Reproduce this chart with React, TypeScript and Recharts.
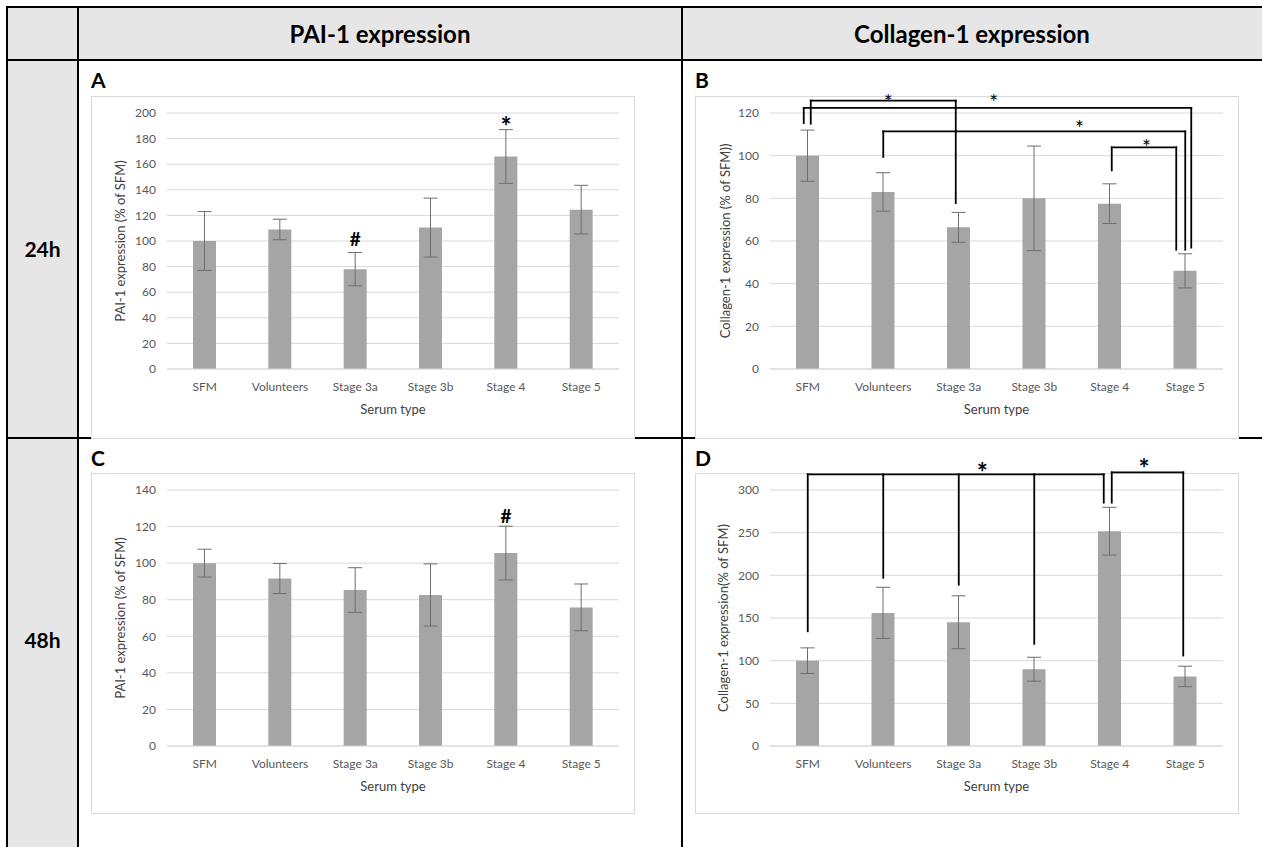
import { BarChart, Bar, XAxis, YAxis, CartesianGrid, ErrorBar, ReferenceLine, ReferenceDot } from 'recharts'

const FONT = 'Lato, "Open Sans", sans-serif'

const categories = ['SFM', 'Volunteers', 'Stage 3a', 'Stage 3b', 'Stage 4', 'Stage 5']

// 24h
const pai24 = [100, 109, 78, 110.5, 166, 124.5]
const pai24Err = [23, 8, 13, 23, 21, 19]
const col24 = [100, 83, 66.4, 80, 77.5, 46]
const col24Err = [12, 9, 7, 24.5, 9.3, 8]
// 48h
const pai48 = [100, 91.6, 85.3, 82.6, 105.5, 75.8]
const pai48Err = [7.6, 8.2, 12.2, 17, 14.7, 12.8]
const col48 = [100, 156, 145, 90, 251.7, 81.5]
const col48Err = [15, 30, 31, 14, 28, 12]

const ticksA = [0, 20, 40, 60, 80, 100, 120, 140, 160, 180, 200]
const ticksB = [0, 20, 40, 60, 80, 100, 120]
const ticksC = [0, 20, 40, 60, 80, 100, 120, 140]
const ticksD = [0, 50, 100, 150, 200, 250, 300]

type Mark = { x: string; y: number; sym: string }
type Leg = { x: string; end: number }
type Bracket = { top: number; legs: Leg[]; star: number }

const marksA: Mark[] = [
  { x: 'Stage 3a', y: 101.5, sym: '#' },
  { x: 'Stage 4', y: 193.5, sym: '*' },
]
const marksC: Mark[] = [{ x: 'Stage 4', y: 125.8, sym: '#' }]

// significance brackets (y in axis units, star = fraction along the top line)
const bracketsB: Bracket[] = [
  { top: 125.8, legs: [{ x: 'SFM', end: 115 }, { x: 'Stage 3a', end: 77.8 }], star: 0.535 },
  { top: 122.4, legs: [{ x: 'SFM', end: 115.3 }, { x: 'Stage 5', end: 56.9 }], star: 0.49 },
  { top: 111.4, legs: [{ x: 'Volunteers', end: 99.4 }, { x: 'Stage 5', end: 55.9 }], star: 0.65 },
  { top: 103.9, legs: [{ x: 'Stage 4', end: 93.1 }, { x: 'Stage 5', end: 55.9 }], star: 0.54 },
]
const bracketsD: Bracket[] = [
  {
    top: 318.4,
    legs: [
      { x: 'SFM', end: 134.4 },
      { x: 'Volunteers', end: 197.2 },
      { x: 'Stage 3a', end: 189 },
      { x: 'Stage 3b', end: 119.7 },
      { x: 'Stage 4', end: 285.2 },
    ],
    star: 0.59,
  },
  { top: 320.7, legs: [{ x: 'Stage 4', end: 285.2 }, { x: 'Stage 5', end: 106 }], star: 0.45 },
]

// pixel nudges so legs sharing a bar don't sit on top of each other
const nudgesB = [[3, -3], [-4, 6], [0, 0], [2, -9]]
const nudgesD = [[0, 0, 0, 0, -6], [2, -2]]
const liftB = [3, 10, 7, 4.5]
const liftD = [7, 9]

const SYMBOLS: Record<string, { size: number; base: number }> = {
  '#': { size: 19, base: 0.35 },
  '*': { size: 26, base: 0.57 },
}

type PanelProps = {
  values: number[]
  errs: number[]
  ticks: number[]
  yLabel: string
  left: number
  labelX: number
  marks?: Mark[]
  brackets?: Bracket[]
  nudges?: number[][]
  lifts?: number[]
  starSize?: number
  starWeight?: number
}

function Panel({ values, errs, ticks, yLabel, left, labelX, marks = [], brackets = [], nudges = [], lifts = [], starSize = 18, starWeight = 400 }: PanelProps) {
  const data = categories.map((name, i) => ({ name, value: values[i], err: errs[i] }))
  const yMax = ticks[ticks.length - 1]

  return (
    <BarChart width={544} height={341} data={data} margin={{ top: 17, right: 16, bottom: 0, left: 0 }}>
      <CartesianGrid vertical={false} stroke="#d9d9d9" />
      <XAxis
        dataKey="name"
        height={68}
        tickLine={false}
        tickSize={0}
        tickMargin={13}
        axisLine={{ stroke: '#d9d9d9' }}
        tick={{ fontSize: 12, fill: '#595959' }}
        label={{ value: 'Serum type', position: 'insideBottom', offset: 23, fontSize: 13, fill: '#404040' }}
      />
      <YAxis
        width={left}
        domain={[0, yMax]}
        ticks={ticks}
        interval={0}
        tickLine={false}
        tickSize={0}
        tickMargin={11}
        axisLine={false}
        tick={{ fontSize: 12, fill: '#595959' }}
        label={{ value: yLabel, angle: -90, position: 'center', dx: labelX - left / 2, fontSize: 13, fill: '#404040' }}
      />
      <Bar dataKey="value" fill="#a5a5a5" barSize={23} isAnimationActive={false}>
        <ErrorBar dataKey="err" width={7} stroke="#6e6e6e" strokeWidth={1} />
      </Bar>

      {marks.map((m, i) => {
        const s = SYMBOLS[m.sym]
        return (
          <ReferenceDot
            key={`m${i}`}
            x={m.x}
            y={m.y}
            r={0}
            ifOverflow="visible"
            shape={(p: any) => (
              <text x={p.cx} y={p.cy + s.base * s.size} textAnchor="middle" fontSize={s.size} fontWeight={700} fill="#000">
                {m.sym}
              </text>
            )}
          />
        )
      })}

      {brackets.map((b, bi) => {
        const dx = nudges[bi] || b.legs.map(() => 0)
        const first = b.legs[0]
        const last = b.legs[b.legs.length - 1]
        const lift = lifts[bi] || 6
        return [
          ...b.legs.map((leg, li) => (
            <ReferenceLine
              key={`b${bi}l${li}`}
              segment={[{ x: leg.x, y: b.top }, { x: leg.x, y: leg.end }]}
              ifOverflow="visible"
              shape={(p: any) => (
                <line x1={p.x1 + dx[li]} x2={p.x2 + dx[li]} y1={p.y1} y2={p.y2} stroke="#000" strokeWidth={1.8} strokeLinecap="square" />
              )}
            />
          )),
          <ReferenceLine
            key={`b${bi}h`}
            segment={[{ x: first.x, y: b.top }, { x: last.x, y: b.top }]}
            ifOverflow="visible"
            shape={(p: any) => {
              const x1 = p.x1 + dx[0]
              const x2 = p.x2 + dx[dx.length - 1]
              const sx = x1 + b.star * (x2 - x1)
              return (
                <g>
                  <line x1={x1} x2={x2} y1={p.y1} y2={p.y2} stroke="#000" strokeWidth={1.8} strokeLinecap="square" />
                  <text x={sx} y={p.y1 - lift + 0.57 * starSize} textAnchor="middle" fontSize={starSize} fontWeight={starWeight} fill="#000">
                    *
                  </text>
                </g>
              )
            }}
          />,
        ]
      })}
    </BarChart>
  )
}

function Box({ x, y, h, children }: { x: number; y: number; h: number; children: any }) {
  return (
    <div style={{ position: 'absolute', left: x, top: y, width: 544, height: h, background: '#fff', boxSizing: 'border-box', border: '1px solid #d9d9d9' }}>
      <div style={{ position: 'absolute', left: -1, top: -1 }}>{children}</div>
    </div>
  )
}

export default function App() {
  return (
    <div style={{ position: 'absolute', left: 0, top: 0, width: 1262, height: 847, background: '#fff', overflow: 'hidden', fontFamily: FONT }}>
      <style>{'.recharts-surface{overflow:visible}'}</style>
      <svg width={1262} height={847} style={{ position: 'absolute', left: 0, top: 0 }} fontFamily={FONT}>
        <rect x={7} y={7} width={1255} height={53} fill="#e7e6e6" />
        <rect x={7} y={60} width={71} height={787} fill="#e7e6e6" />
        <rect x={6} y={6} width={1256} height={2} fill="#000" />
        <rect x={6} y={59} width={1256} height={2} fill="#000" />
        <rect x={6} y={437} width={1256} height={2} fill="#000" />
        <rect x={6} y={6} width={2} height={841} fill="#000" />
        <rect x={77} y={6} width={2} height={841} fill="#000" />
        <rect x={681} y={6} width={2} height={841} fill="#000" />

        <text x={380} y={42.5} textAnchor="middle" fontSize={24} fontWeight={700} fill="#000">PAI-1 expression</text>
        <text x={972} y={42.5} textAnchor="middle" fontSize={24} fontWeight={700} fill="#000">Collagen-1 expression</text>
        <text x={42.5} y={257} textAnchor="middle" fontSize={21} fontWeight={700} fill="#000">24h</text>
        <text x={42.5} y={648} textAnchor="middle" fontSize={21} fontWeight={700} fill="#000">48h</text>

        <text x={91} y={88} fontSize={21} fontWeight={700} fill="#000">A</text>
        <text x={695} y={88} fontSize={21} fontWeight={700} fill="#000">B</text>
        <text x={91} y={466} fontSize={21} fontWeight={700} fill="#000">C</text>
        <text x={695} y={466} fontSize={21} fontWeight={700} fill="#000">D</text>
      </svg>

      <Box x={91} y={96} h={343}>
        <Panel values={pai24} errs={pai24Err} ticks={ticksA} yLabel="PAI-1 expression (% of SFM)" left={76} labelX={29} marks={marksA} />
      </Box>
      <Box x={695} y={96} h={343}>
        <Panel
          values={col24}
          errs={col24Err}
          ticks={ticksB}
          yLabel="Collagen-1 expression (% of SFM))"
          left={75}
          labelX={30}
          brackets={bracketsB}
          nudges={nudgesB}
          lifts={liftB}
          starSize={21}
          starWeight={400}
        />
      </Box>
      <Box x={91} y={473} h={341}>
        <Panel values={pai48} errs={pai48Err} ticks={ticksC} yLabel="PAI-1 expression (% of SFM)" left={76} labelX={29} marks={marksC} />
      </Box>
      <Box x={695} y={473} h={341}>
        <Panel
          values={col48}
          errs={col48Err}
          ticks={ticksD}
          yLabel="Collagen-1 expression(% of SFM)"
          left={75}
          labelX={28}
          brackets={bracketsD}
          nudges={nudgesD}
          lifts={liftD}
          starSize={26}
          starWeight={700}
        />
      </Box>
    </div>
  )
}
